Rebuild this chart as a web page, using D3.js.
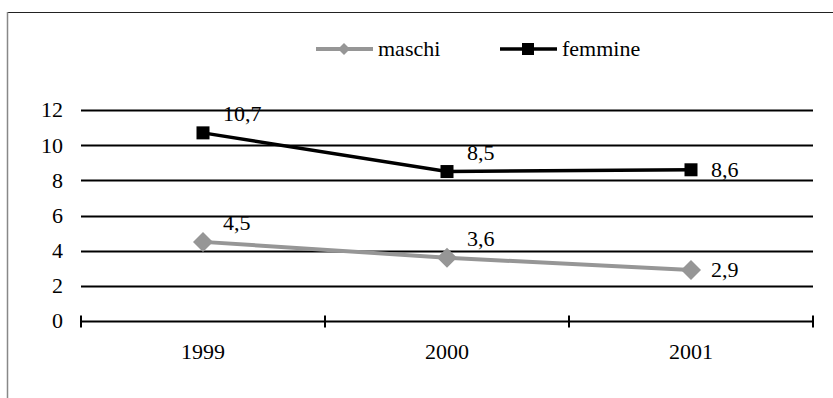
<!DOCTYPE html>
<html><head><meta charset="utf-8">
<script src="https://cdn.jsdelivr.net/npm/d3@7"></script>
</head><body style="margin:0">
<svg id="chart" width="833" height="398"></svg>
<script>
// Categories and series
const years = ["1999", "2000", "2001"];
const maschi = [4.5, 3.6, 2.9];
const femmine = [10.7, 8.5, 8.6];
const yTicks = [0, 2, 4, 6, 8, 10, 12];
const seriesNames = ["maschi", "femmine"];

const W = 833, H = 398;
const plot = { left: 81, right: 813, top: 110, bottom: 321 };
const grey = "#969696";
const FS = 22;

const svg = d3.select("#chart");

// outer frame of the chart area (extends past the right and bottom edges)
svg.append("rect")
  .attr("x", 7.5).attr("y", 12.5)
  .attr("width", W + 10).attr("height", H + 10)
  .attr("fill", "none").attr("stroke", "#222").attr("stroke-width", 1);
svg.append("line")
  .attr("x1", 7.5).attr("x2", 7.5).attr("y1", 12).attr("y2", H)
  .attr("stroke", "#888").attr("stroke-width", 1.5);

const x = d3.scaleBand().domain(years).range([plot.left, plot.right]);
const y = d3.scaleLinear().domain([0, 12]).range([plot.bottom, plot.top]);

// serif text, sized like the rest of the chart
function styleText(sel) {
  return sel
    .attr("font-family", "Liberation Serif")
    .attr("font-size", FS)
    .attr("fill", "#000")
    .style("font-family", "'Liberation Serif'")
    .style("font-size", FS + "px");
}

// horizontal gridlines
svg.append("g")
  .selectAll("line")
  .data(yTicks.filter(v => v > 0))
  .join("line")
  .attr("x1", plot.left).attr("x2", plot.right)
  .attr("y1", d => Math.round(y(d)) + 0.5).attr("y2", d => Math.round(y(d)) + 0.5)
  .attr("stroke", "#000").attr("stroke-width", 2);

// y axis labels
styleText(svg.append("g").selectAll("text")
  .data(yTicks)
  .join("text")
  .attr("x", plot.left - 18)
  .attr("y", d => y(d))
  .attr("dy", "0.34em")
  .attr("text-anchor", "end")
  .text(d => d3.format("d")(d)));

// category axis with boundary ticks
const xAxis = svg.append("g")
  .attr("transform", `translate(0,${Math.round(y(0)) + 0.5})`);
xAxis.append("line")
  .attr("x1", plot.left).attr("x2", plot.right)
  .attr("stroke", "#000").attr("stroke-width", 2);
const boundaries = years.map(d => x(d)).concat([x(years[years.length - 1]) + x.bandwidth()]);
xAxis.selectAll("line.tick")
  .data(boundaries)
  .join("line").attr("class", "tick")
  .attr("x1", d => d).attr("x2", d => d)
  .attr("y1", -6).attr("y2", 6)
  .attr("stroke", "#000").attr("stroke-width", 2);
styleText(xAxis.selectAll("text")
  .data(years)
  .join("text")
  .attr("x", d => x(d) + x.bandwidth() / 2)
  .attr("y", 37)
  .attr("text-anchor", "middle")
  .text(d => d));

const cx = d => x(d) + x.bandwidth() / 2;
const line = d3.line().x((d, i) => cx(years[i])).y(d => y(d));

function drawDiamond(g, px, py, r, color) {
  g.append("path")
    .attr("d", `M${px},${py - r}L${px + r},${py}L${px},${py + r}L${px - r},${py}Z`)
    .attr("fill", color);
}

// maschi series
svg.append("path").datum(maschi)
  .attr("d", line).attr("fill", "none")
  .attr("stroke", grey).attr("stroke-width", 4);
const gM = svg.append("g");
maschi.forEach((v, i) => drawDiamond(gM, cx(years[i]), y(v), 10, grey));

// femmine series
svg.append("path").datum(femmine)
  .attr("d", line).attr("fill", "none")
  .attr("stroke", "#000").attr("stroke-width", 3.5);
svg.append("g").selectAll("rect")
  .data(femmine)
  .join("rect")
  .attr("x", (d, i) => cx(years[i]) - 6.5)
  .attr("y", d => y(d) - 6.5)
  .attr("width", 13).attr("height", 13)
  .attr("fill", "#000");

// value labels: above-right for inner points, right-centred for the last
const fmt = v => d3.format(".1f")(v).replace(".", ",");
function labels(values) {
  styleText(svg.append("g").selectAll("text")
    .data(values)
    .join("text")
    .attr("x", (d, i) => cx(years[i]) + (i === values.length - 1 ? 20 : 20))
    .attr("y", (d, i) => y(d) + (i === values.length - 1 ? 0 : -12))
    .attr("dy", (d, i) => i === values.length - 1 ? "0.34em" : "0")
    .text(d => fmt(d)));
}
labels(femmine);
labels(maschi);

// legend
const legend = svg.append("g").attr("transform", "translate(0,49)");
const legendItems = [
  { name: seriesNames[0], x0: 316, color: grey, width: 4, marker: "diamond" },
  { name: seriesNames[1], x0: 500, color: "#000", width: 3.5, marker: "square" }
];
legendItems.forEach(it => {
  legend.append("line")
    .attr("x1", it.x0).attr("x2", it.x0 + 57)
    .attr("stroke", it.color).attr("stroke-width", it.width);
  const mx = it.x0 + 28;
  if (it.marker === "diamond") {
    drawDiamond(legend, mx, 0, 6, it.color);
  } else {
    legend.append("rect").attr("x", mx - 6).attr("y", -6)
      .attr("width", 12).attr("height", 12).attr("fill", it.color);
  }
  styleText(legend.append("text")
    .attr("x", it.x0 + 62).attr("y", 0).attr("dy", "0.34em")
    .text(it.name));
});
</script>
</body>
</html>
